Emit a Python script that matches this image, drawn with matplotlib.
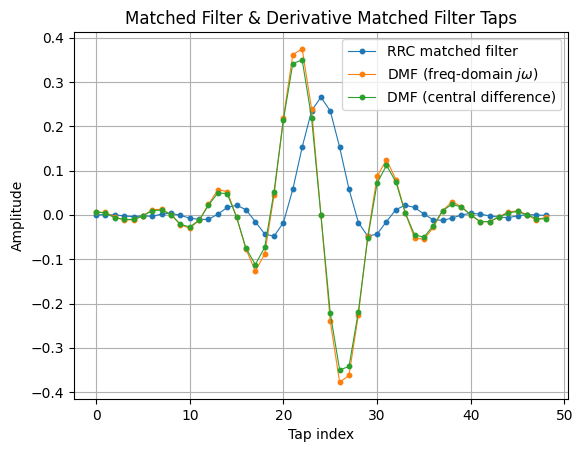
import numpy as np
import matplotlib
matplotlib.use("Agg")
import matplotlib.pyplot as plt

# ── Data ──────────────────────────────────────────────────────────────────────
taps = np.arange(49)

rrc = [0.000, 0.001, 0.000, -0.002, -0.004, -0.002, -0.003, 0.002, 0.004, -0.001,
       -0.007, -0.010, -0.010, 0.002, 0.017, 0.022, 0.012, -0.015, -0.043, -0.048,
       -0.017, 0.058, 0.153, 0.235, 0.266, 0.235, 0.153, 0.058, -0.017, -0.048,
       -0.043, -0.015, 0.012, 0.022, 0.017, 0.002, -0.011, -0.012, -0.007, 0.000,
       0.004, 0.002, -0.002, -0.005, -0.006, -0.002, 0.001, 0.000, -0.001]

dmf_freq = [0.006, 0.006, -0.005, -0.011, -0.011, -0.002, 0.012, 0.013, 0.001, -0.022,
            -0.030, -0.012, 0.024, 0.057, 0.053, -0.005, -0.077, -0.127, -0.088, 0.045,
            0.220, 0.362, 0.375, 0.240, 0.000, -0.240, -0.378, -0.362, -0.225, -0.048,
            0.087, 0.125, 0.080, 0.005, -0.052, -0.055, -0.028, 0.010, 0.030, 0.019,
            0.000, -0.015, -0.015, -0.004, 0.007, 0.009, 0.001, -0.012, -0.005]

dmf_cd = [0.0075, 0.004, -0.006, -0.010, -0.010, -0.002, 0.010, 0.011, 0.001, -0.021,
          -0.027, -0.012, 0.022, 0.050, 0.048, -0.005, -0.075, -0.112, -0.073, 0.053,
          0.215, 0.342, 0.350, 0.220, 0.000, -0.222, -0.350, -0.342, -0.218, -0.052,
          0.072, 0.112, 0.075, 0.005, -0.045, -0.050, -0.024, 0.010, 0.024, 0.018,
          0.000, -0.015, -0.015, -0.005, 0.005, 0.008, 0.000, -0.008, -0.009]

# ── Plot ──────────────────────────────────────────────────────────────────────
fig, ax = plt.subplots(figsize=(5.84, 4.54), dpi=100)
fig.subplots_adjust(left=0.126, right=0.973, top=0.929, bottom=0.121)

ax.plot(taps, rrc, "o-", lw=0.8, ms=3.2, label="RRC matched filter")
ax.plot(taps, dmf_freq, "o-", lw=0.8, ms=3.2, label=r"DMF (freq-domain $j\omega$)")
ax.plot(taps, dmf_cd, "o-", lw=0.8, ms=3.2, label="DMF (central difference)")

ax.set_title("Matched Filter & Derivative Matched Filter Taps")
ax.set_xlabel("Tap index")
ax.set_ylabel("Amplitude")
ax.grid(True)
ax.legend(loc="upper right")

fig.savefig("out.png", dpi=100)
